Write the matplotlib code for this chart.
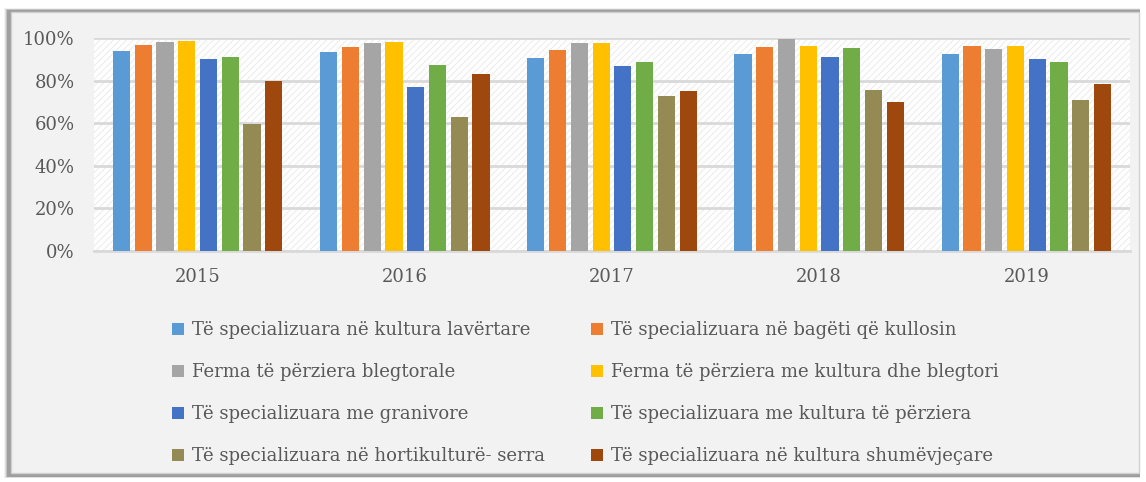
import numpy as np
from matplotlib import pyplot as plt
from matplotlib.patches import Rectangle

years = ["2015", "2016", "2017", "2018", "2019"]
series = [
    "Të specializuara në kultura lavërtare",
    "Të specializuara në bagëti që kullosin",
    "Ferma të përziera blegtorale",
    "Ferma të përziera me kultura dhe blegtori",
    "Të specializuara me granivore",
    "Të specializuara me kultura të përziera",
    "Të specializuara në hortikulturë- serra",
    "Të specializuara në kultura shumëvjeçare",
]
colors = ["#5b9bd5", "#ed7d31", "#a5a5a5", "#ffc000",
          "#4472c4", "#70ad47", "#948a54", "#9e480e"]

lavertare = [93.8, 93.2, 90.4, 92.6, 92.4]
bageti = [96.7, 95.6, 94.5, 95.7, 96.2]
blegtorale = [98.2, 97.6, 97.8, 99.5, 94.8]
kult_blegt = [98.4, 98.3, 97.5, 96.1, 96.4]
granivore = [90.2, 77.1, 87.0, 91.0, 90.0]
kult_perz = [91.1, 87.4, 88.6, 95.3, 88.8]
hortikult = [59.4, 62.9, 72.8, 75.4, 71.1]
shumevj = [79.6, 82.9, 74.9, 70.0, 78.2]
values = [lavertare, bageti, blegtorale, kult_blegt,
          granivore, kult_perz, hortikult, shumevj]

plt.rcParams['font.family'] = ["DejaVu Serif"]
plt.rcParams['hatch.linewidth'] = 0.7
txt = "#595959"
fs = 13

W, H = 1146, 482
fig = plt.figure(figsize=(W / 100, H / 100), dpi=100, facecolor="white")

# frame with a soft shadow
for i, a in enumerate([0.05, 0.08, 0.12, 0.18]):
    o = 4 - i
    fig.patches.append(Rectangle(((8 - o) / W, (6 - o * 0.5) / H),
                                 (1132 + o) / W, (466 + o) / H,
                                 transform=fig.transFigure, facecolor="black",
                                 alpha=a, edgecolor="none", zorder=-5))
fig.patches.append(Rectangle((11 / W, 9 / H), 1128 / W, 461 / H,
                             transform=fig.transFigure, facecolor="#f2f2f2",
                             edgecolor="#d0d0d0", linewidth=1, zorder=-4))

ax = fig.add_axes([94 / W, 1 - 251 / H, (1130 - 94) / W, 213 / H])
ax.set_zorder(2)
ax.set_facecolor("white")
ax.add_patch(Rectangle((0, 0), 1, 1, transform=ax.transAxes, facecolor="none",
                       edgecolor="#ebebeb", hatch="/////", linewidth=0, zorder=0))

x = np.arange(len(years))
step = 0.105
bw = 0.083
bars = []
for i, (name, vals) in enumerate(zip(series, values)):
    bars.append(ax.bar(x + (i - 3.5) * step, vals, width=bw, color=colors[i],
                       label=name, zorder=3))

ax.set_xlim(-0.5, len(years) - 0.5)
ax.set_ylim(0, 100)
ax.set_yticks(range(0, 101, 20))
ax.set_yticklabels([f"{v}%" for v in range(0, 101, 20)])
ax.set_xticks(x)
ax.set_xticklabels(years)
ax.grid(axis="y", color="#d9d9d9", linewidth=2, zorder=1)
ax.set_axisbelow(True)
for s in ["top", "right", "left"]:
    ax.spines[s].set_visible(False)
ax.spines["bottom"].set_color("#d9d9d9")
ax.spines["bottom"].set_linewidth(2)
ax.tick_params(axis="both", length=0, labelsize=fs, colors=txt)
ax.tick_params(axis="y", pad=14)
ax.tick_params(axis="x", pad=12)

# legend filled row by row
order = list(range(0, 8, 2)) + list(range(1, 8, 2))
leg = fig.legend([bars[k] for k in order], [series[k] for k in order], ncol=2,
                 loc="upper left", bbox_to_anchor=(165 / W, 1 - 314 / H),
                 frameon=False, fontsize=fs, labelcolor=txt,
                 handlelength=0.65, handleheight=0.65, handletextpad=0.45,
                 columnspacing=2.55, labelspacing=1.33, borderaxespad=0)

fig.savefig("out.png", dpi=100, facecolor="white")
